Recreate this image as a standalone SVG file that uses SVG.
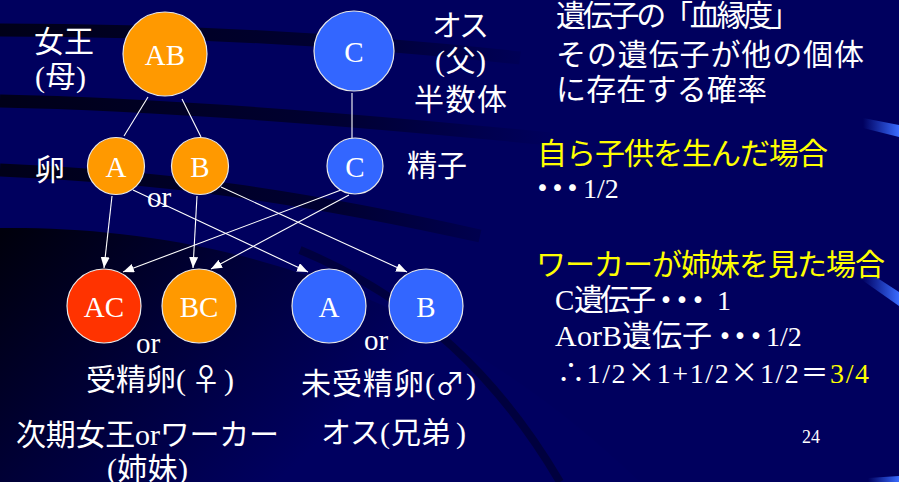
<svg xmlns="http://www.w3.org/2000/svg" width="906" height="482" viewBox="0 0 906 482">
<defs>
<style>
.bg{fill:#00005e}
.n{stroke:#e8e8e8;stroke-width:1.2}
.or{fill:#ff9900}
.rd{fill:#ff3300}
.bl{fill:#3366ff}
.lab{font-family:"Liberation Serif","Times New Roman",serif;font-size:29px;fill:#ffffff;text-anchor:middle}
.t{font-family:"Liberation Serif","Noto Sans CJK JP",serif;font-size:30px;fill:#ffffff}
.s{font-family:"Liberation Serif","Times New Roman",serif;font-size:28px;fill:#ffffff}
.j{font-family:"Noto Sans CJK JP",sans-serif}
.d{font-family:"Noto Sans CJK JP",sans-serif;font-size:40px}
.y{fill:#ffff00}
.c{stroke:#ffffff;stroke-width:1.1;fill:none}
.a{marker-end:url(#ah)}
.band{fill:none;stroke:url(#bandg);stroke-width:13}
</style>
<marker id="ah" markerUnits="userSpaceOnUse" markerWidth="12" markerHeight="10" refX="11" refY="4.5" orient="auto">
<path d="M0,0 L11,4.5 L0,9 Z" fill="#ffffff"/>
</marker>
<linearGradient id="bandg" gradientUnits="userSpaceOnUse" x1="0" y1="0" x2="560" y2="0">
<stop offset="0" stop-color="#000014" stop-opacity="0.95"/>
<stop offset="0.6" stop-color="#000014" stop-opacity="0.6"/>
<stop offset="1" stop-color="#000014" stop-opacity="0"/>
</linearGradient>
<linearGradient id="lowg" gradientUnits="userSpaceOnUse" x1="0" y1="235" x2="260" y2="500">
<stop offset="0" stop-color="#00000c"/>
<stop offset="0.5" stop-color="#000038"/>
<stop offset="1" stop-color="#000060"/>
</linearGradient>
<linearGradient id="streak" x1="0" y1="0" x2="1" y2="0">
<stop offset="0" stop-color="#3366ff" stop-opacity="0"/>
<stop offset="1" stop-color="#3a6cff"/>
</linearGradient>
</defs>

<g id="background">
<rect class="bg" x="0" y="0" width="906" height="482"/>
<path class="band" d="M0,30 C150,30 320,36 520,58"/>
<path class="band" d="M0,101 C150,104 320,116 560,140"/>
<path class="band" d="M0,170 C160,176 300,196 480,236"/>
<path d="M0,228 C180,226 420,270 640,482 L0,482 Z" fill="url(#lowg)"/>
<path d="M300,250 C420,300 500,380 560,482" fill="none" stroke="#000030" stroke-width="8" opacity="0.7"/>
<polygon points="863,118 899,125 899,137 863,128" fill="url(#streak)"/>
<polygon points="862,268 899,292 899,306 862,280" fill="url(#streak)"/>
<polygon points="868,478 899,476 899,482 868,482" fill="url(#streak)"/>
<rect x="899" y="0" width="7" height="482" fill="#ffffff"/>
</g>

<g id="connectors">
<line class="c" x1="148" y1="97" x2="124" y2="136"/>
<line class="c" x1="182" y1="99" x2="201" y2="137"/>
<line class="c" x1="352" y1="93" x2="352" y2="144"/>
<line class="c a" x1="112" y1="196" x2="104" y2="268"/>
<line class="c a" x1="197" y1="196" x2="193" y2="268"/>
<line class="c a" x1="341" y1="190" x2="123" y2="272"/>
<line class="c a" x1="349" y1="195" x2="211" y2="269"/>
<line class="c a" x1="133" y1="190" x2="308" y2="272"/>
<line class="c a" x1="221" y1="187" x2="407" y2="272"/>
</g>

<g id="node-AB"><circle class="n or" cx="165" cy="54" r="42"/><text class="lab" x="165" y="65">AB</text></g>
<g id="node-C-male"><circle class="n bl" cx="354" cy="51" r="40"/><text class="lab" x="354" y="62">C</text></g>
<g id="node-egg-A"><circle class="n or" cx="116" cy="166" r="28.5"/><text class="lab" x="116" y="177">A</text></g>
<g id="node-egg-B"><circle class="n or" cx="200" cy="166" r="28.5"/><text class="lab" x="200" y="177">B</text></g>
<g id="node-sperm-C"><circle class="n bl" cx="355" cy="166" r="28"/><text class="lab" x="355" y="177">C</text></g>
<g id="node-AC"><circle class="n rd" cx="104" cy="306" r="37"/><text class="lab" x="104" y="317">AC</text></g>
<g id="node-BC"><circle class="n or" cx="199" cy="306" r="37"/><text class="lab" x="199" y="317">BC</text></g>
<g id="node-A"><circle class="n bl" cx="329" cy="306" r="37"/><text class="lab" x="329" y="317">A</text></g>
<g id="node-B"><circle class="n bl" cx="426" cy="306" r="37"/><text class="lab" x="426" y="317">B</text></g>

<g id="labels">
<text class="t" x="34" y="52" textLength="60" lengthAdjust="spacing">女王</text>
<text class="t" x="35" y="87" textLength="51" lengthAdjust="spacing">(母)</text>
<text class="t" x="35" y="180">卵</text>
<text class="t" x="432" y="36" textLength="57" lengthAdjust="spacing">オス</text>
<text class="t" x="435" y="71" textLength="51" lengthAdjust="spacing">(父)</text>
<text class="t" x="414" y="110" textLength="93" lengthAdjust="spacing">半数体</text>
<text class="t" x="407" y="176">精子</text>
<text class="s" x="147" y="207" style="font-size:29px">or</text>
<text class="s" x="136" y="353" style="font-size:29px">or</text>
<text class="s" x="364" y="350" style="font-size:29px">or</text>

<text class="t" x="86 116 146 176 191 224" y="390">受精卵<tspan class="s" style="font-size:30px">(</tspan><tspan class="j">♀</tspan><tspan class="s" style="font-size:30px">)</tspan></text>

<text class="t" x="301 332 363 394 425 435 466" y="394">未受精卵<tspan class="s" style="font-size:30px">(</tspan><tspan class="j">♂</tspan><tspan class="s" style="font-size:30px">)</tspan></text>

<text class="t" x="16" y="445" textLength="263" lengthAdjust="spacing">次期女王orワーカー</text>
<text class="t" x="107" y="479" textLength="81" lengthAdjust="spacing">(姉妹)</text>

<text class="t" x="321 350 380 391 421 456" y="443">オス<tspan class="s" style="font-size:30px">(</tspan>兄弟<tspan class="s" style="font-size:30px">)</tspan></text>

<text class="t" x="556" y="26" textLength="244" lengthAdjust="spacing">遺伝子の「血縁度」</text>
<text class="t" x="556" y="65" textLength="308" lengthAdjust="spacing">その遺伝子が他の個体</text>
<text class="t" x="556" y="100" textLength="211" lengthAdjust="spacing">に存在する確率</text>
<text class="t y" x="537" y="164" textLength="291" lengthAdjust="spacing">自ら子供を生んだ場合</text>
<text class="t" x="532.5 547.5 562.5 583" y="198"><tspan class="d" dy="4.5">･･･</tspan><tspan class="s" dy="-4.5">1/2</tspan></text>

<text class="t y" x="536" y="275" textLength="349" lengthAdjust="spacing">ワーカーが姉妹を見た場合</text>
<text class="t" x="555 574 600 626 656 672 688 717" y="310"><tspan class="s" style="font-size:29px">C</tspan>遺伝子<tspan class="d" dy="4.5">･･･</tspan><tspan class="s" dy="-4.5">1</tspan></text>
<text class="t" x="555 577 592 602 622 652 682 715 730 746 766" y="346"><tspan class="s" style="font-size:30px">AorB</tspan>遺伝子<tspan class="d" dy="4.5">･･･</tspan><tspan class="s" dy="-4.5">1/2</tspan></text>
<text class="s" x="557" y="383" textLength="312" lengthAdjust="spacing"><tspan class="j">∴</tspan>1/2<tspan class="j">×</tspan>1+1/2<tspan class="j">×</tspan>1/2<tspan class="j">＝</tspan><tspan class="y">3/4</tspan></text>
<text class="s" x="802" y="443" style="font-size:18px">24</text>
</g>
</svg>
